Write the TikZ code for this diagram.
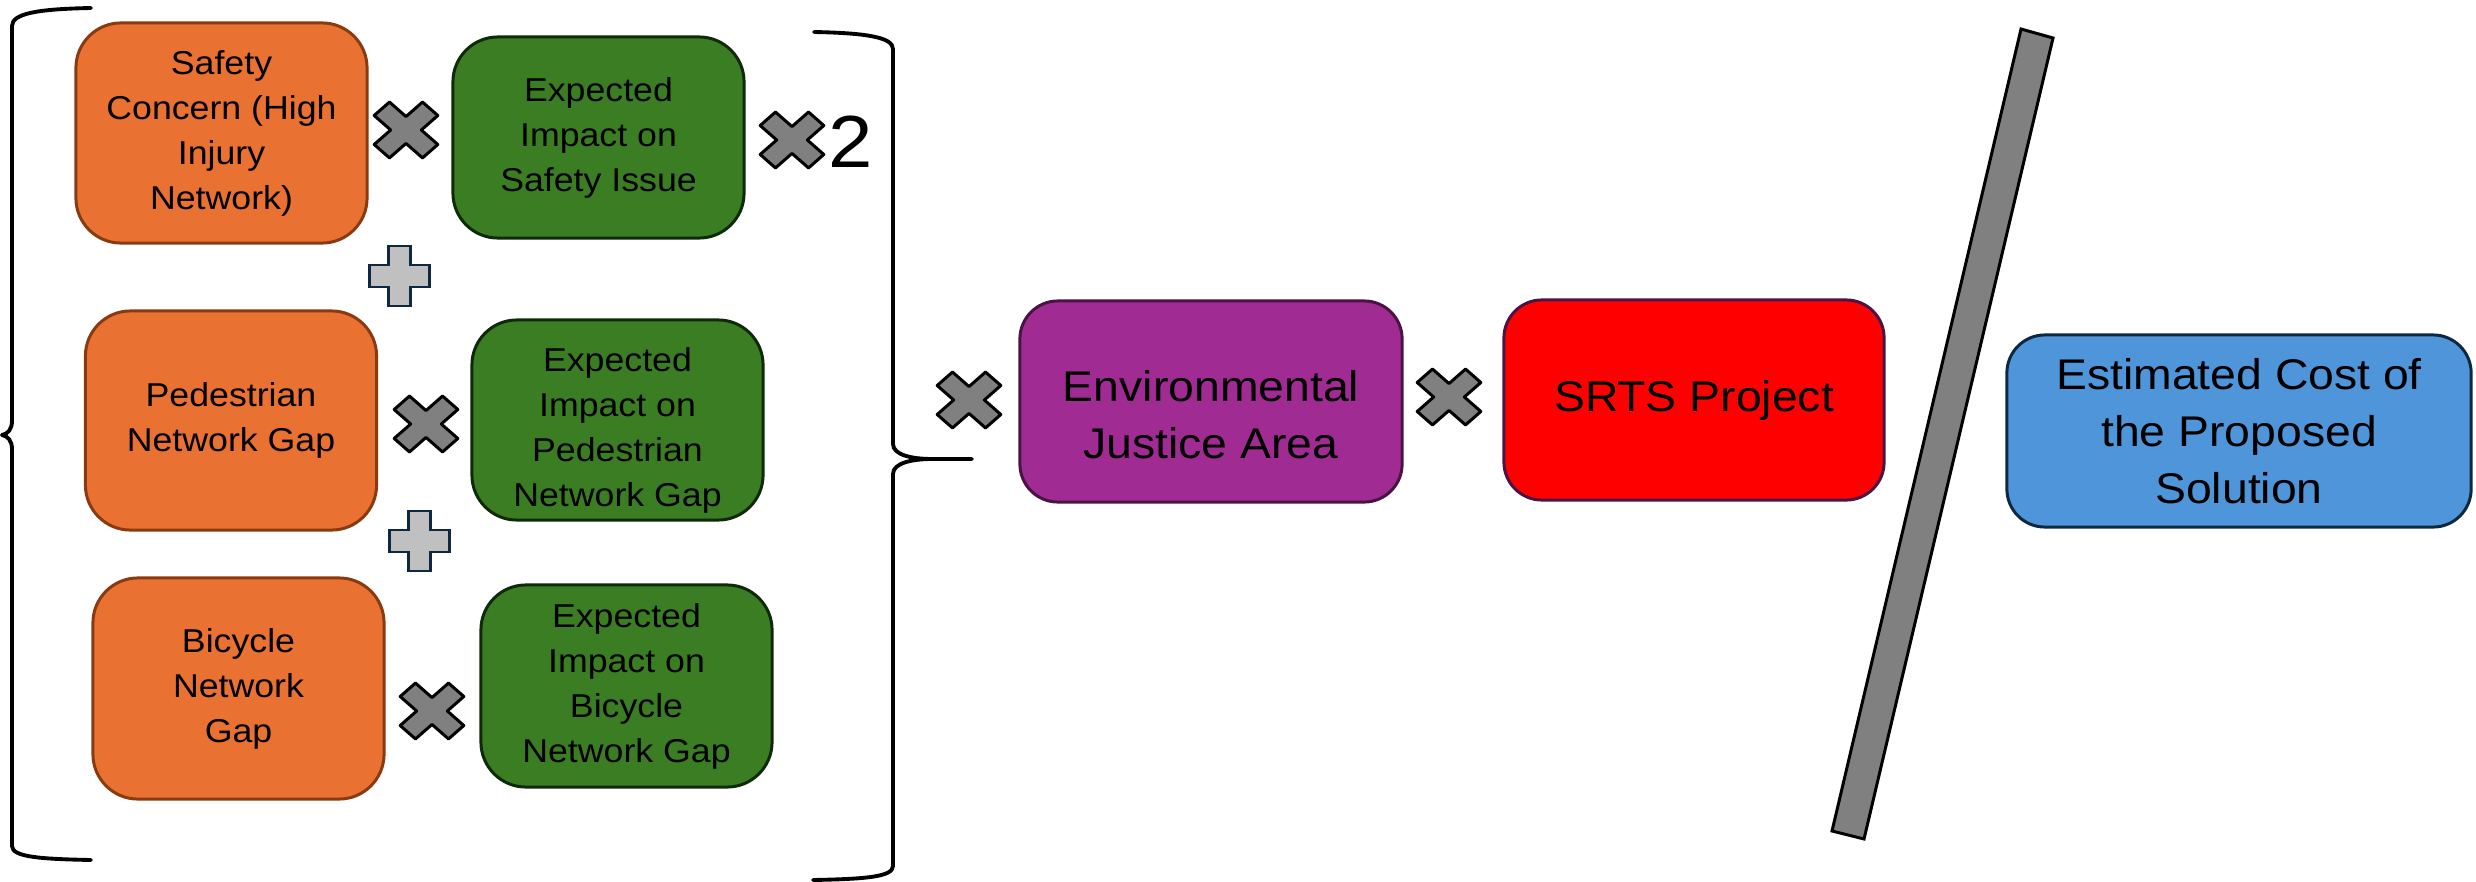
\documentclass[tikz,border=0pt]{standalone}
\usepackage{fontspec}
\setmainfont{Liberation Sans}[FakeStretch=1.08]
\definecolor{orfill}{HTML}{E97132}
\definecolor{ordraw}{HTML}{8A3A10}
\definecolor{grfill}{HTML}{3B7D23}
\definecolor{grdraw}{HTML}{0E2A08}
\definecolor{pufill}{HTML}{A02B93}
\definecolor{pudraw}{HTML}{4A1442}
\definecolor{refill}{HTML}{FF0000}
\definecolor{blfill}{HTML}{4E95D9}
\definecolor{bldraw}{HTML}{0E2841}
\definecolor{plfill}{HTML}{C0C0C0}
\definecolor{xgray}{HTML}{808080}
\tikzset{
  leftbox/.style={draw, line width=0.85pt, rounded corners=0.45cm, inner sep=0pt, align=center,
    minimum width=2.91cm, font=\fontsize{9.4}{12.8}\selectfont, text=black},
  orbox/.style={leftbox, fill=orfill, draw=ordraw},
  grbox/.style={leftbox, fill=grfill, draw=grdraw},
  rightbox/.style={draw, line width=0.85pt, rounded corners=0.38cm, inner sep=0pt, align=center,
    font=\fontsize{12.2}{16.2}\selectfont, text=black},
  lbl/.style={align=center, font=\fontsize{12.2}{16.2}\selectfont, text=black},
  lbls/.style={align=center, font=\fontsize{9.4}{12.8}\selectfont, text=black},
  bracestyle/.style={draw=black, line width=1.1pt, line join=round, line cap=round},
  mult/.pic={\draw[fill=xgray, draw=black, line width=0.85pt, line join=round, xscale=1.14, rotate=45]
     (30,9.5)--(9.5,9.5)--(9.5,30)--(-9.5,30)--(-9.5,9.5)--(-30,9.5)--(-30,-9.5)--(-9.5,-9.5)
     --(-9.5,-30)--(9.5,-30)--(9.5,-9.5)--(30,-9.5)--cycle;},
  plusop/.pic={\draw[fill=plfill, draw=bldraw, line width=0.85pt]
     (30,11)--(11,11)--(11,30)--(-11,30)--(-11,11)--(-30,11)--(-30,-11)--(-11,-11)
     --(-11,-30)--(11,-30)--(11,-11)--(30,-11)--cycle;}
}
\begin{document}
\begin{tikzpicture}[x=0.01cm, y=-0.01cm]
\useasboundingbox (0,0) rectangle (2476,882);

% left boxes
\node[orbox, minimum height=2.20cm] (safety) at (221.5,133) {Safety\\Concern (High\\Injury\\Network)};
\node[grbox, minimum height=2.01cm] (impsafety) at (598.5,137.5) {Expected\\Impact on\\Safety Issue};
\node[orbox, minimum height=2.19cm] (ped) at (231,420.5) {Pedestrian\\Network Gap};
\node[grbox, minimum height=2.00cm, label={[lbls, yshift=-0.1cm]center:{Expected\\Impact on\\Pedestrian\\Network Gap}}] (impped) at (617.5,420) {};
\node[orbox, minimum height=2.21cm] (bike) at (238.5,688.5) {Bicycle\\Network\\Gap};
\node[grbox, minimum height=2.02cm] (impbike) at (626.5,686) {Expected\\Impact on\\Bicycle\\Network Gap};

% right boxes
\node[rightbox, fill=pufill, draw=pudraw, minimum width=3.82cm, minimum height=2.01cm,
  label={[lbl, yshift=-0.13cm]center:{Environmental\\Justice Area}}] (env) at (1211,401.5) {};
\node[rightbox, fill=refill, draw=pudraw, minimum width=3.80cm, minimum height=2.00cm] (srts) at (1694,400) {SRTS Project};
\node[rightbox, fill=blfill, draw=bldraw, minimum width=4.64cm, minimum height=1.92cm] (cost) at (2239,431) {Estimated Cost of\\the Proposed\\Solution};

% operators
\pic (m1) at (406,130) {mult};
\pic (m2) at (792,140) {mult};
\pic (m3) at (426,424) {mult};
\pic (m4) at (432,711) {mult};
\pic (m5) at (969,400) {mult};
\pic (m6) at (1449,397) {mult};
\pic (p1) at (399,276) {plusop};
\pic (p2) at (419,541) {plusop};
\node[font=\fontsize{21}{24}\selectfont, inner sep=0pt] (two) at (851,142) {2};

% braces
\draw[bracestyle] (91,8) .. controls (40,9) and (12,13) .. (12,26) -- (12,421)
  .. controls (12,429) and (8,434) .. (2,435)
  .. controls (8,436) and (12,441) .. (12,449) -- (12,846)
  .. controls (12,857) and (40,859) .. (91,860);
\draw[bracestyle] (814,32) .. controls (865,33) and (893,37) .. (893,49) -- (893,444)
  .. controls (893,455) and (912,459) .. (932,459) -- (972,459) -- (932,459)
  .. controls (912,459) and (893,463) .. (893,474) -- (893,866)
  .. controls (893,877) and (865,879) .. (813,880);

% slash
\draw[fill=xgray, draw=black, line width=0.85pt, line join=miter] (2021,29) -- (2053,38) -- (1864,839) -- (1832,831) -- cycle;
\end{tikzpicture}
\end{document}
